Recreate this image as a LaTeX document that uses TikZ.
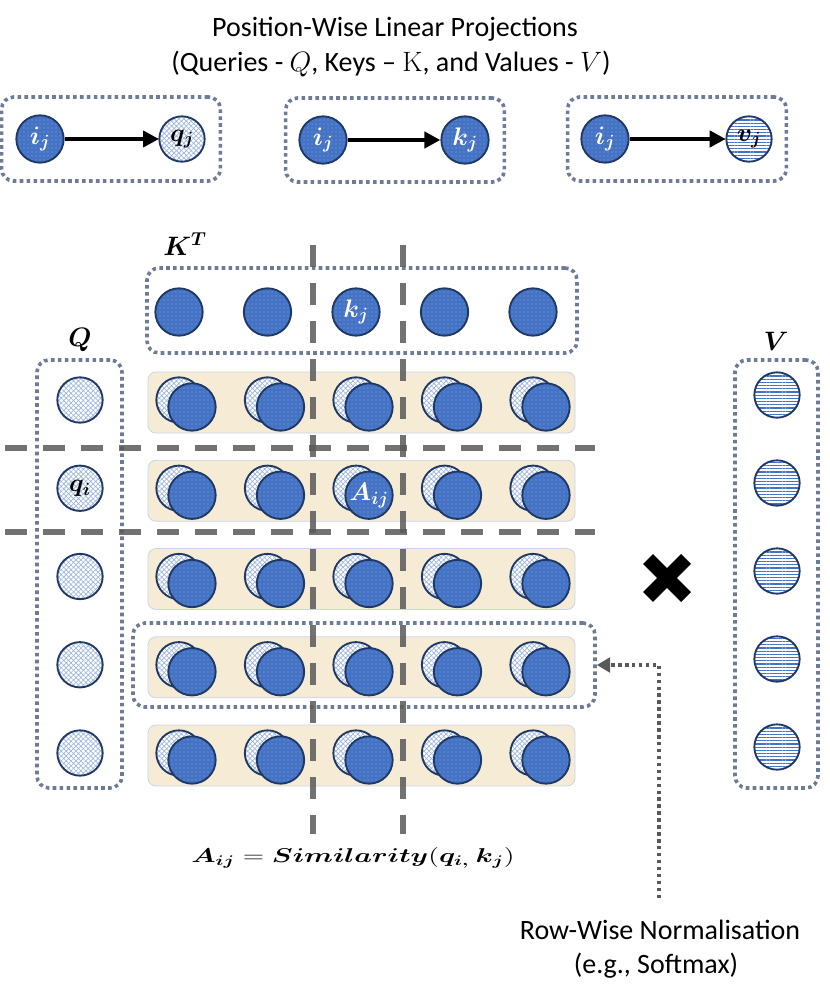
\RequirePackage{fix-cm}
\documentclass[tikz,border=0pt]{standalone}
\usepackage{amsmath}
\DeclareFontShape{OML}{cmm}{b}{it}{<->cmmib10}{}
\DeclareFontShape{OMS}{cmsy}{b}{n}{<->cmbsy10}{}
\usepackage{bm}
\usepackage[no-math]{fontspec}
\setmainfont{Carlito}
\usetikzlibrary{patterns.meta,arrows.meta,positioning}
\definecolor{kblue}{HTML}{4472C4}
\definecolor{kdot}{HTML}{8FAADC}
\definecolor{kline}{HTML}{1F3864}
\definecolor{qhatch}{HTML}{9DB5E0}
\definecolor{slate}{HTML}{6E7B97}
\definecolor{dgray}{HTML}{595959}
\definecolor{tan}{HTML}{F6ECD6}
\definecolor{tanline}{HTML}{C7D4EC}

\begin{document}
\begin{tikzpicture}[x=0.75pt, y=-0.75pt, node distance=106.5pt,
  kk/.style={circle, draw=kline, line width=1.4pt, minimum size=35.5pt, inner sep=0pt,
    preaction={fill=kblue}, pattern={Dots[distance=3pt,radius=0.45pt]}, pattern color=kdot,
    text=white, font=\fontsize{19}{19}\selectfont},
  qq/.style={circle, draw=kline, line width=1.4pt, minimum size=34pt, inner sep=0pt,
    preaction={fill=white}, pattern={Hatch[angle=45,distance=2.6pt,line width=0.5pt]}, pattern color=qhatch,
    font=\fontsize{19}{19}\selectfont},
  vv/.style={circle, draw=kline, line width=1.4pt, minimum size=34pt, inner sep=0pt,
    preaction={fill=white}, pattern={Lines[distance=2.4pt,line width=0.9pt]}, pattern color=kblue,
    font=\fontsize{19}{19}\selectfont},
  grp/.style={draw=slate, line width=2.7pt, dash pattern=on 2.7pt off 2.5pt, rounded corners=9pt, inner sep=0pt},
  cut/.style={draw=dgray, line width=3.8pt, dash pattern=on 16.5pt off 12pt, draw opacity=0.85},
  band/.style={fill=tan, draw=tanline, line width=0.6pt, rounded corners=6pt},
  proj/.style={-{Triangle[length=12pt,width=12pt]}, line width=3.4pt},
  norm/.style={-{Triangle[length=10pt,width=11pt]}, draw=dgray, line width=2.6pt, dash pattern=on 2.6pt off 2.6pt},
  lbl/.style={font=\fontsize{20}{20}\selectfont},
  txt/.style={font=\fontsize{21}{24}\selectfont}]
\useasboundingbox (0,0) rectangle (830,984);

\node[txt, anchor=base] (t1) at (395,37) {Position-Wise Linear Projections};
\node[txt, anchor=base] (t2) at (391,72) {(Queries - $Q$, Keys -- $\mathrm{K}$, and Values - $V$)};

\node[grp, minimum width=164pt, minimum height=63pt] (p1) at (111,139) {};
\node[grp, minimum width=164pt, minimum height=63pt] (p2) at (395,140) {};
\node[grp, minimum width=164pt, minimum height=63pt] (p3) at (677,139) {};
\node[kk] (i1) at (40,139) {$\bm{i_j}$};
\node[qq, right of=i1] (qj) {$\bm{q_j}$};
\node[kk] (i2) at (323,140) {$\bm{i_j}$};
\node[kk, right of=i2] (kj) {$\bm{k_j}$};
\node[kk] (i3) at (605,139) {$\bm{i_j}$};
\node[vv, right of=i3, xshift=1.5pt] (vj) {$\bm{v_j}$};
\draw[proj] (i1) -- (qj);
\draw[proj] (i2) -- (kj);
\draw[proj] (i3) -- (vj);

\node[lbl] (ktl) at (185,244) {$\bm{K^T}$};
\node[lbl] (ql) at (80,340) {$\bm{Q}$};
\node[lbl] (vl) at (776,341) {$\bm{V}$};

\node[grp, minimum width=322.5pt, minimum height=63.75pt] (ktbox) at (362,310.5) {};
\node[grp, minimum width=63.75pt, minimum height=321pt] (qbox) at (79.5,574) {};
\node[grp, minimum width=62.25pt, minimum height=321pt] (vbox) at (776.5,574) {};
\node[grp, minimum width=346.5pt, minimum height=63pt] (rowbox) at (364,665) {};

\foreach \c in {1,...,5}
  \node[kk] (k\c) at ({179+88.5*(\c-1)},312) {\ifnum\c=3 $\bm{k_j}$\fi};

\foreach \r in {1,...,5}{
  \pgfmathsetmacro\y{400+88.25*(\r-1)}
  \draw[band] (148,\y-28) rectangle (575,\y+33);
  \node[qq] (q\r) at (80,\y) {\ifnum\r=2 $\bm{q_i}$\fi};
  \node[vv] (v\r) at (777,{395+88*(\r-1)}) {};
  \foreach \c in {1,...,5}{
    \pgfmathsetmacro\x{179+88.5*(\c-1)}
    \node[qq] (l-\r-\c) at (\x,\y) {};
    \node[kk] (a-\r-\c) at (\x+13,\y+7) {\ifnum\r\c=23 $\bm{A_{ij}}$\fi};
  }
}

\draw[cut] (5,448) -- (595,448);
\draw[cut] (5,532) -- (595,532);
\draw[cut] (313,245) -- (313,834);
\draw[cut] (403,245) -- (403,834);

\coordinate (mul) at (667,578);
\draw[line width=10.5pt] (mul) ++(-19,-19) -- ++(38,38) (mul) ++(-19,19) -- ++(38,-38);

\node[anchor=base, xscale=1.4, transform shape, font=\fontsize{15}{18}\selectfont] (sim) at (353,862)
  {$\bm{A_{ij}} = \bm{Similarity}(\bm{q_{i,}}\ \bm{k_j})$};

\node[txt, anchor=base] (nt1) at (660,939) {Row-Wise Normalisation};
\node[txt, anchor=base] (nt2) at (656,973) {(e.g., Softmax)};
\coordinate (nrm) at (659,898);
\draw[norm] (nrm) |- (rowbox.east);

\end{tikzpicture}
\end{document}
